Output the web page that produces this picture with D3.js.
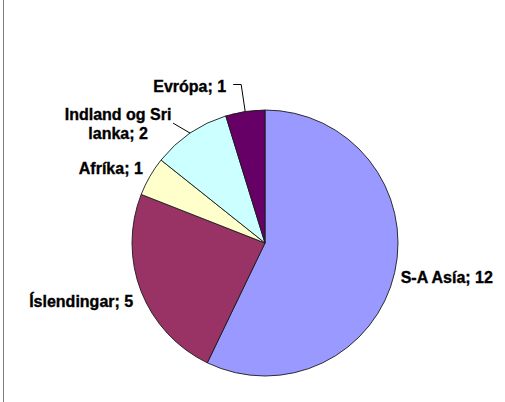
<!DOCTYPE html>
<html>
<head>
<meta charset="utf-8">
<script src="https://cdn.jsdelivr.net/npm/d3@7"></script>
<style>
  html, body { margin: 0; padding: 0; background: #fff; }
  svg { display: block; }
</style>
</head>
<body>
<div id="chart"></div>
<script>
const categories = ["S-A Asía", "Íslendingar", "Afríka", "Indland og Sri lanka", "Evrópa"]
const values = [12, 5, 1, 2, 1]
const sliceColors = ["#9999ff", "#993366", "#ffffcc", "#ccffff", "#660066"]

// label placement, relative to the point on the rim at the slice mid angle
const labelLayout = [
  { dx: 6, dy: 5, anchor: "start", lines: ["S-A Asía; 12"] },
  { dx: -8, dy: 10, anchor: "end", lines: ["Íslendingar; 5"] },
  { dx: -7, dy: -8, anchor: "end", lines: ["Afríka; 1"] },
  { dx: -72, dy: -9, anchor: "middle", lines: ["Indland og Sri", "lanka; 2"], leader: [-17, -10] },
  { dx: -19, dy: -25, anchor: "end", lines: ["Evrópa; 1"], leader: [-4, -27] }
]

const width = 505
const height = 402
const cx = 265
const cy = 243
const radius = 133

const svg = d3
  .select("#chart")
  .append("svg")
  .attr("width", width)
  .attr("height", height)

// left edge of the chart frame
svg
  .append("line")
  .attr("x1", 3.5)
  .attr("x2", 3.5)
  .attr("y1", 0)
  .attr("y2", height)
  .attr("stroke", "#808080")
  .attr("stroke-width", 1)

const data = categories.map((c, i) => ({ name: c, value: values[i], color: sliceColors[i], layout: labelLayout[i] }))

const pie = d3.pie().value((d) => d.value).sort(null)
const arc = d3.arc().innerRadius(0).outerRadius(radius)
const arcs = pie(data)

const g = svg.append("g").attr("transform", `translate(${cx},${cy})`)

g.selectAll("path")
  .data(arcs)
  .enter()
  .append("path")
  .attr("d", arc)
  .attr("fill", (d) => d.data.color)
  .attr("stroke", "#1a1a1a")
  .attr("stroke-width", 0.9)
  .attr("stroke-linejoin", "round")

function rimPoint(d) {
  const a = (d.startAngle + d.endAngle) / 2
  return [radius * Math.sin(a), -radius * Math.cos(a)]
}

// leader lines
g.selectAll("path.leader")
  .data(arcs.filter((d) => d.data.layout.leader))
  .enter()
  .append("path")
  .attr("class", "leader")
  .attr("fill", "none")
  .attr("stroke", "#000")
  .attr("stroke-width", 1)
  .attr("d", (d) => {
    const [x, y] = rimPoint(d)
    const [lx, ly] = d.data.layout.leader
    if (d.data.name === "Evrópa") {
      return `M${x},${y} L${x + lx},${y + ly} L${x + lx - 8},${y + ly}`
    }
    return `M${x},${y} L${x + lx},${y + ly}`
  })

const labels = g
  .selectAll("text.label")
  .data(arcs)
  .enter()
  .append("text")
  .attr("class", "label")
  .attr("font-family", "'Liberation Sans', Arial, sans-serif")
  .attr("font-weight", "bold")
  .attr("font-size", "16px")
  .attr("fill", "#000")
  .attr("stroke", "#000")
  .attr("stroke-width", 0.35)
  .attr("text-anchor", (d) => d.data.layout.anchor)
  .attr("transform", (d) => {
    const [x, y] = rimPoint(d)
    return `translate(${x + d.data.layout.dx},${y + d.data.layout.dy})`
  })

labels.each(function (d) {
  const lines = d.data.layout.lines
  d3.select(this)
    .selectAll("tspan")
    .data(lines)
    .enter()
    .append("tspan")
    .attr("x", 0)
    .attr("y", (l, i) => (i - (lines.length - 1) / 2) * 19)
    .attr("dy", "0.35em")
    .text((l) => l)
})
</script>
</body>
</html>
